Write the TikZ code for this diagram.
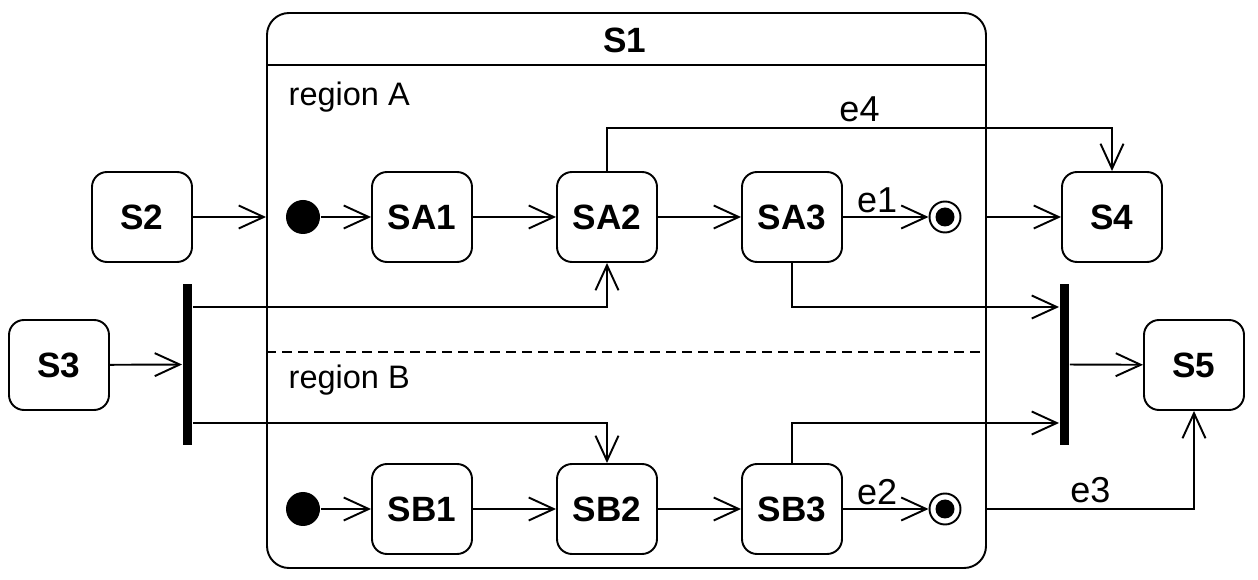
\documentclass[tikz,border=0pt]{standalone}
\usepackage{fontspec}
\setmainfont{Liberation Sans}
\usetikzlibrary{arrows.meta,positioning,calc}

\begin{document}
\begin{tikzpicture}[
    line width=1.1pt,
    state/.style={draw, rounded corners=0.3cm, minimum width=2cm, minimum height=1.8cm, font=\fontsize{20}{24}\selectfont\bfseries},
    initst/.style={circle, fill=black, minimum size=0.68cm, inner sep=0pt},
    finalst/.style={circle, draw, minimum size=0.62cm, inner sep=0pt, path picture={\fill (path picture bounding box.center) circle (0.19cm);}},
    bar/.style={fill=black, minimum width=0.18cm, minimum height=3.22cm, inner sep=0pt},
    trans/.style={-{Straight Barb[length=5mm,width=4.6mm]}},
    lbl/.style={font=\fontsize{18.5}{22}\selectfont, inner sep=1pt},
    evlbl/.style={font=\fontsize{20.5}{24}\selectfont, inner sep=1pt}
  ]
  \useasboundingbox (0,0) rectangle (25.16,11.6);

  \def\rowA{7.26}
  \def\rowB{1.42}

  % composite state S1 with its two regions
  \node[draw, rounded corners=0.44cm, minimum width=14.38cm, minimum height=11.1cm] (s1) at (12.53,5.79) {};
  \coordinate (hdr) at (0,10.3);
  \coordinate (sep) at (0,4.56);
  \draw (s1.west |- hdr) -- (s1.east |- hdr);
  \draw[line width=0.9pt, dash pattern=on 0.2cm off 0.12cm] (s1.west |- sep) -- (s1.east |- sep);
  \node[font=\fontsize{20}{24}\selectfont\bfseries] (s1name) at (12.5,10.8) {S1};
  \node[lbl, anchor=west] (regA) at (5.72,9.66) {region A};
  \node[lbl, anchor=west] (regB) at (5.72,4.0) {region B};

  % states
  \foreach \n/\t/\x/\y in {sa1/SA1/8.44/\rowA, sa2/SA2/12.14/\rowA, sa3/SA3/15.84/\rowA,
                           sb1/SB1/8.44/\rowB, sb2/SB2/12.14/\rowB, sb3/SB3/15.84/\rowB,
                           s2/S2/2.84/\rowA, s4/S4/22.24/\rowA, s3/S3/1.18/4.3, s5/S5/23.88/4.3} {
    \node[state] (\n) at (\x,\y) {\t};
  }
  \foreach \n/\y in {A/\rowA, B/\rowB} {
    \node[initst] (init\n) at (6.06,\y) {};
    \node[finalst] (fin\n) at (18.9,\y) {};
  }

  % fork and join bars
  \node[bar] (fork) at (3.75,4.31) {};
  \node[bar] (join) at (21.29,4.31) {};
  \coordinate (upper) at (0,5.46);
  \coordinate (lower) at (0,3.14);
  \coordinate (top) at (0,9.04);

  % transitions
  \foreach \a/\b in {initA/sa1, sa1/sa2, sa2/sa3, initB/sb1, sb1/sb2, sb2/sb3} {
    \draw[trans] (\a) -- (\b);
  }
  \draw[trans] (sa3) -- node[evlbl, above=1pt, pos=0.4] (e1) {e1} (finA);
  \draw[trans] (sb3) -- node[evlbl, above=1pt, pos=0.4] (e2) {e2} (finB);
  \draw[trans] (s2) -- (s2 -| s1.west);
  \draw[trans] (s4 -| s1.east) -- (s4);
  \draw[trans] (sa2.north) -- (sa2.north |- top) -| node[evlbl, above=2pt, pos=0.25] (e4) {e4} (s4.north);
  \draw[trans] (s3) -- (fork);
  \draw[trans] (fork.east |- upper) -| (sa2.south);
  \draw[trans] (fork.east |- lower) -| (sb2.north);
  \draw[trans] (sa3.south) |- (join.west |- upper);
  \draw[trans] (sb3.north) |- (join.west |- lower);
  \draw[trans] (join) -- (s5);
  \draw[trans] (s1.east |- finB) -| node[evlbl, above=2pt, pos=0.25] (e3) {e3} (s5.south);

\end{tikzpicture}
\end{document}
